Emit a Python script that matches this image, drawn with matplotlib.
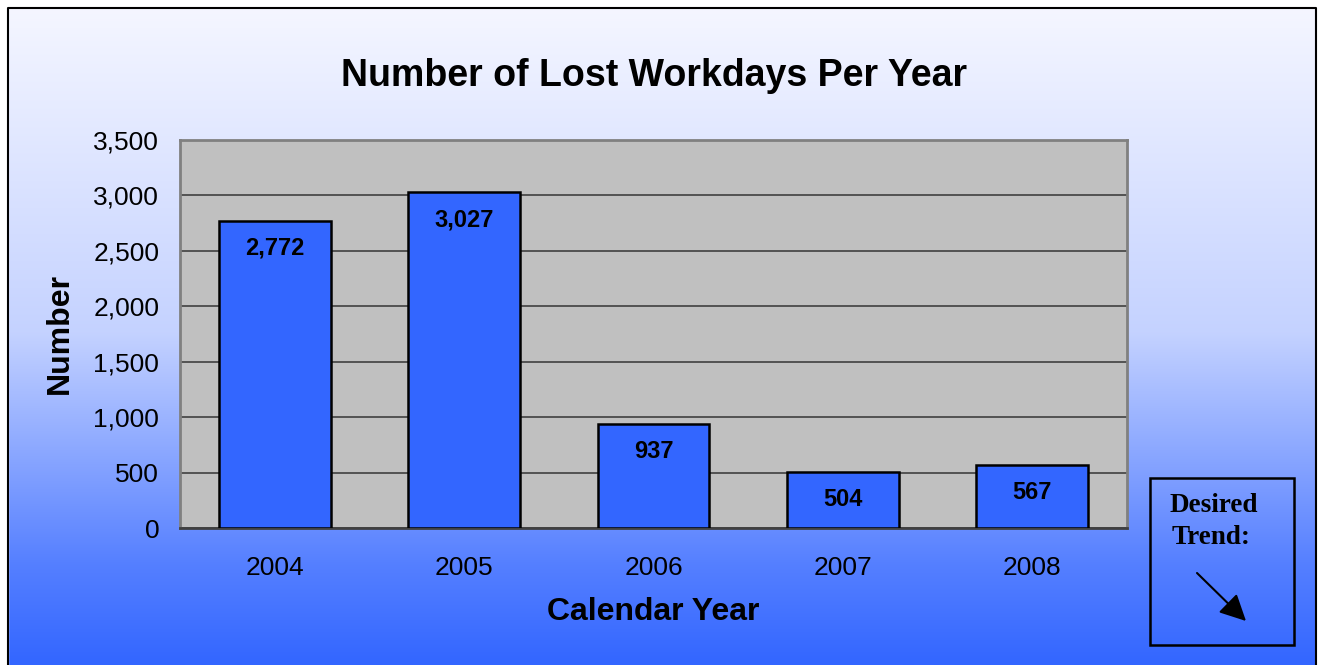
import numpy as np
import matplotlib
matplotlib.use("Agg")
import matplotlib.pyplot as plt
from matplotlib.patches import Rectangle

years = ["2004", "2005", "2006", "2007", "2008"]
lost_days = [2772, 3027, 937, 504, 567]
y_ticks = [0, 500, 1000, 1500, 2000, 2500, 3000, 3500]

W, H = 1322, 665
fig = plt.figure(figsize=(W / 100, H / 100), dpi=100)
plt.rcParams['font.family'] = ['Liberation Sans', 'DejaVu Sans']

# background gradient: white-ish at top to blue at bottom
bg = fig.add_axes([0, 0, 1, 1])
bg.set_axis_off()
t = np.linspace(0, 1, 400)
f = np.interp(t, [0, 0.5, 0.85, 1.0], [0.02, 0.27, 0.83, 1.0])
top = np.array([250, 250, 255]) / 255
bot = np.array([51, 102, 255]) / 255
grad = (1 - f)[:, None] * top + f[:, None] * bot
bg.imshow(grad[:, None, :], aspect='auto', extent=[0, 1, 0, 1], origin='upper')
bg.set_xlim(0, 1)
bg.set_ylim(0, 1)
# white margin outside the frame
bg.add_patch(Rectangle((0, 0), 8 / W, 1, color='white', zorder=2))
bg.add_patch(Rectangle((0, 1 - 8 / H), 1, 8 / H, color='white', zorder=2))
bg.add_patch(Rectangle((1316 / W, 0), 6 / W, 1, color='white', zorder=2))
bg.plot([8 / W, 8 / W, 1316 / W, 1316 / W], [0, 1 - 8 / H, 1 - 8 / H, 0],
        color='black', lw=1.5, zorder=3)

# main plot area
ax = fig.add_axes([180 / W, 1 - 528 / H, (1127 - 180) / W, (528 - 140) / H])
ax.set_facecolor('#c0c0c0')
x = np.arange(len(years))
bars = ax.bar(x, lost_days, width=0.59, color='#3366ff', edgecolor='black',
              linewidth=1.8, zorder=3)
ax.set_xlim(-0.5, len(years) - 0.5)
ax.set_ylim(0, 3500)
ax.set_yticks(y_ticks)
ax.set_yticklabels([f"{v:,}" for v in y_ticks], fontsize=19)
ax.set_xticks(x)
ax.set_xticklabels(years, fontsize=19)
ax.tick_params(axis='y', length=0, pad=15)
ax.tick_params(axis='x', length=0, pad=20)
ax.yaxis.grid(True, color='#404040', lw=1.2, zorder=1)
ax.set_axisbelow(True)
for s in ax.spines.values():
    s.set_color('#808080')
    s.set_linewidth(2)
ax.spines['bottom'].set_color('#404040')

for b, v in zip(bars, lost_days):
    ax.annotate(f"{v:,}", (b.get_x() + b.get_width() / 2, v),
                xytext=(0, -20), textcoords='offset points',
                ha='center', va='center', fontsize=17, fontweight='bold', zorder=4)

ax.set_xlabel("Calendar Year", fontsize=23, fontweight='bold', va='center')
ax.xaxis.set_label_coords(0.5, -(612 - 528) / 388)
ax.set_ylabel("Number", fontsize=23, fontweight='bold', va='center')
ax.yaxis.set_label_coords(-(180 - 60) / 947, 0.5)
fig.text(654 / W, 1 - 76 / H, "Number of Lost Workdays Per Year",
         ha='center', va='center', fontsize=27, fontweight='bold')

# "Desired Trend" box
bg.add_patch(Rectangle((1150 / W, 1 - 645 / H), 144 / W, 167 / H,
                       fill=False, edgecolor='black', lw=1.8, zorder=4))
bg.text(1170 / W, 1 - 505 / H, "Desired", fontsize=19.5, fontweight='bold',
        family=['Liberation Serif'], va='center', ha='left', zorder=5)
bg.text(1172 / W, 1 - 537 / H, "Trend:", fontsize=19.5, fontweight='bold',
        family=['Liberation Serif'], va='center', ha='left', zorder=5)
bg.annotate("", xy=(1246 / W, 1 - 621 / H), xytext=(1197 / W, 1 - 573 / H),
            arrowprops=dict(arrowstyle='-|>', color='black', lw=1.5,
                            mutation_scale=40, shrinkA=0, shrinkB=0), zorder=5)

fig.savefig("out.png", dpi=100)
